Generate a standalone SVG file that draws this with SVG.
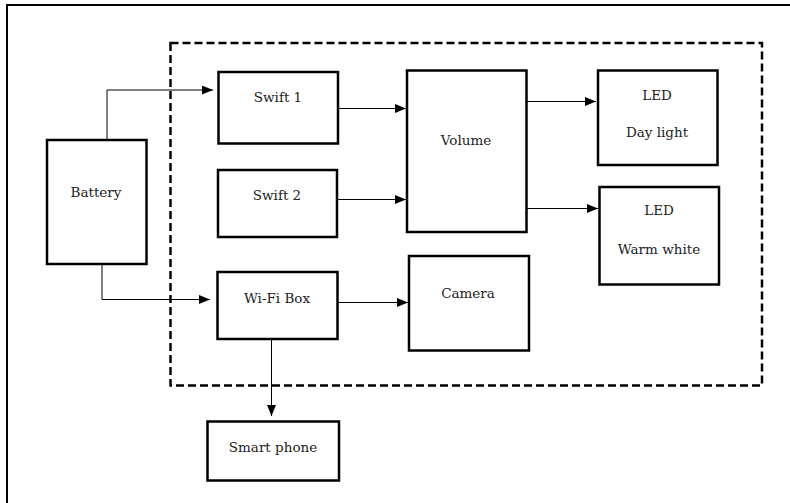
<svg xmlns="http://www.w3.org/2000/svg" width="790" height="503" viewBox="0 0 790 503">
<style>
.box{fill:#fff;stroke:#000;stroke-width:2.5}
.lbl{font-family:'DejaVu Serif','Liberation Serif','Times New Roman',serif;font-size:13.5px;fill:#222;text-anchor:middle}
.con{fill:none;stroke:#000;stroke-width:1}
.frame{fill:none;stroke:#000;stroke-width:2}
.dash{fill:none;stroke:#000;stroke-width:2.5;stroke-dasharray:8 4}
</style>
<defs>
<marker id="arr" markerWidth="11" markerHeight="9" refX="11" refY="4.5" orient="auto" markerUnits="userSpaceOnUse">
<path d="M0,0 L11,4.5 L0,9 Z" fill="#000"/>
</marker>
</defs>
<rect width="790" height="503" fill="#fff"/>
<path class="frame" d="M7,503 V5 H790"/>
<rect class="dash" x="170.5" y="43" width="591.5" height="342.5"/>
<g id="connectors">
<path class="con" d="M107,140 V90 H213" marker-end="url(#arr)"/>
<path class="con" d="M102,264 V299.5 H210" marker-end="url(#arr)"/>
<path class="con" d="M338,108.5 H406" marker-end="url(#arr)"/>
<path class="con" d="M337,199.5 H406" marker-end="url(#arr)"/>
<path class="con" d="M527,101.5 H596" marker-end="url(#arr)"/>
<path class="con" d="M527,208.5 H598" marker-end="url(#arr)"/>
<path class="con" d="M338,302.5 H408" marker-end="url(#arr)"/>
<path class="con" d="M271.5,339 V416" marker-end="url(#arr)"/>
</g>
<g id="battery"><rect class="box" x="47" y="140" width="99.5" height="124"/><text class="lbl" x="96" y="197">Battery</text></g>
<g id="swift1"><rect class="box" x="218.5" y="72" width="119.5" height="71.5"/><text class="lbl" x="278" y="102">Swift 1</text></g>
<g id="swift2"><rect class="box" x="218" y="170" width="119" height="67"/><text class="lbl" x="277" y="200">Swift 2</text></g>
<g id="wifi"><rect class="box" x="217.5" y="272" width="120" height="67"/><text class="lbl" x="277" y="303">Wi-Fi Box</text></g>
<g id="smartphone"><rect class="box" x="207.5" y="421.5" width="131.5" height="59"/><text class="lbl" x="273" y="452">Smart phone</text></g>
<g id="volume"><rect class="box" x="407" y="70.5" width="119.5" height="161.5"/><text class="lbl" x="466" y="145">Volume</text></g>
<g id="led-day"><rect class="box" x="598" y="70.5" width="119.5" height="94.5"/><text class="lbl" x="657" y="100">LED</text><text class="lbl" x="657" y="137">Day light</text></g>
<g id="led-warm"><rect class="box" x="599.5" y="187" width="119.5" height="97.5"/><text class="lbl" x="659" y="215">LED</text><text class="lbl" x="659" y="254">Warm white</text></g>
<g id="camera"><rect class="box" x="409" y="256" width="120" height="94.5"/><text class="lbl" x="468" y="298">Camera</text></g>
</svg>
